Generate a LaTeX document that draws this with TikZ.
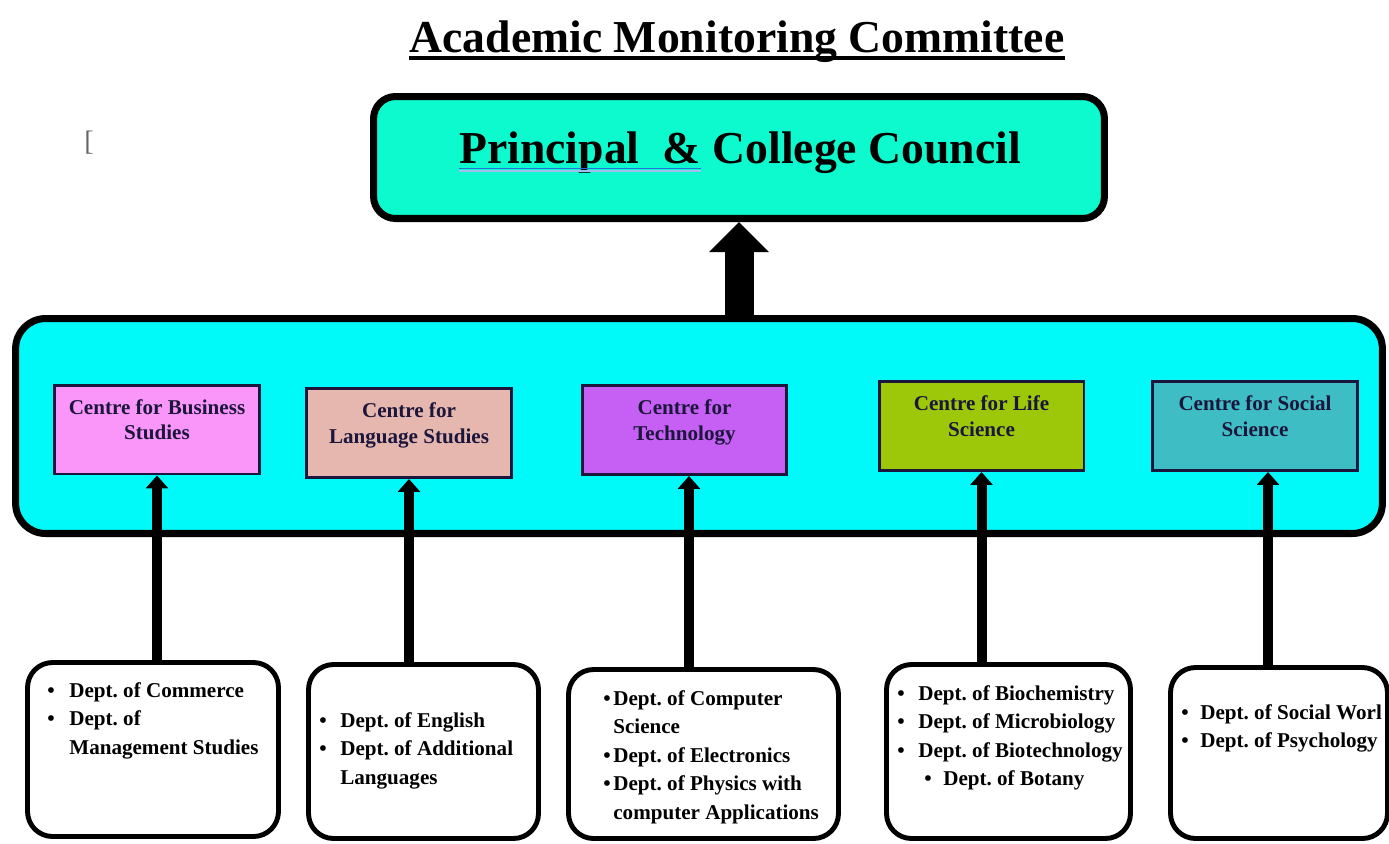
\documentclass[tikz,border=0pt]{standalone}
\usepackage{fontspec}
\setmainfont{Liberation Serif}
\usepackage{tikz}
\usetikzlibrary{positioning,arrows.meta}
\definecolor{councilgreen}{RGB}{12,250,205}
\definecolor{panelcyan}{RGB}{0,250,250}
\definecolor{busipink}{RGB}{250,150,250}
\definecolor{langrose}{RGB}{229,183,174}
\definecolor{techviolet}{RGB}{198,96,245}
\definecolor{lifegreen}{RGB}{157,200,10}
\definecolor{socteal}{RGB}{62,190,196}
\definecolor{centreink}{RGB}{28,22,60}
\definecolor{linkblue}{RGB}{40,110,220}
\newcommand{\centrelbl}[1]{\parbox[c][1.78cm][t]{4cm}{\centering\rule{0pt}{0.58cm}#1}}
\frenchspacing

\begin{document}
\begin{tikzpicture}[x=0.02cm, y=-0.02cm,
titletext/.style={inner sep=0pt, font=\fontsize{26}{30}\selectfont\bfseries},
councilnode/.style={draw, line width=4pt, rounded corners=0.44cm, fill=councilgreen, minimum width=14.62cm, minimum height=2.44cm},
panelnode/.style={draw, line width=4pt, rounded corners=0.6cm, fill=panelcyan, minimum width=27.34cm, minimum height=4.3cm},
centrenode/.style={draw=centreink, line width=1.7pt, inner sep=0pt, minimum width=4.1cm, minimum height=1.78cm, text=centreink, font=\fontsize{12}{14.7}\selectfont\bfseries},
deptnode/.style={draw, line width=2.8pt, rounded corners=0.5cm, fill=white, minimum height=3.48cm},
deptlist/.style={inner sep=0pt, anchor=north west, font=\fontsize{12}{16.2}\selectfont\bfseries},
bigarrow/.style={line width=0.58cm, -{Triangle[width=1.16cm, length=0.6cm]}},
deptarrow/.style={line width=0.2cm, -{Triangle[width=0.44cm, length=0.26cm]}}]
\useasboundingbox (0,0) rectangle (1389,843);

% heading
\node[titletext, anchor=base] (title) at (737,52) {Academic Monitoring Committee};
\draw[line width=0.08cm] ([yshift=-0.12cm]title.base west) -- ([yshift=-0.12cm]title.base east);
\node[text=gray!80!black, font=\fontsize{16}{16}\selectfont] (cursor) at (89,143) {[};

% council
\node[councilnode] (council) at (739,157.5) {};
\node[titletext, anchor=base west] (princ) at (459,163) {Principal\ \ \&};
\node[titletext, base right=6.5pt of princ] (college) {College Council};
\draw[linkblue, line width=0.8pt] ([yshift=-3pt]princ.base west) -- ([yshift=-3pt]princ.base east);
\draw[linkblue!45, line width=0.8pt] ([yshift=-4.6pt]princ.base west) -- ([yshift=-4.6pt]princ.base east);

% centres
\node[panelnode] (panel) at (699,426) {};
\node[centrenode, fill=busipink] (bus) at (157,429.5) {\centrelbl{Centre for Business\\Studies}};
\node[centrenode, fill=langrose] (lang) at (409,433) {\centrelbl{Centre for\\Language Studies}};
\node[centrenode, fill=techviolet] (tech) at (684.5,430) {\centrelbl{Centre for\\Technology}};
\node[centrenode, fill=lifegreen] (life) at (981.5,426) {\centrelbl{Centre for Life\\Science}};
\node[centrenode, fill=socteal] (soc) at (1255,426) {\centrelbl{Centre for Social\\Science}};

% departments
\node[deptnode, minimum width=5.02cm] (d1) at (153,749.5) {};
\node[deptnode, minimum width=4.6cm] (d2) at (423.5,751.5) {};
\node[deptnode, minimum width=5.4cm, minimum height=3.38cm] (d3) at (703.5,754) {};
\node[deptnode, minimum width=4.88cm] (d4) at (1008.5,751.5) {};
\node[deptnode, minimum width=4.34cm, minimum height=3.42cm] (d5) at (1279,753) {};

\node[deptlist] (l1) at (47,677) {\begin{tabular}{@{}p{0.44cm}@{}l@{}}
\textbullet & Dept. of Commerce\\
\textbullet & Dept. of\\
 & Management Studies
\end{tabular}};
\node[deptlist] (l2) at (319,707) {\begin{tabular}{@{}p{0.42cm}@{}l@{}}
\textbullet & Dept. of English\\
\textbullet & Dept. of Additional\\
 & Languages
\end{tabular}};
\node[deptlist] (l3) at (603,685) {\begin{tabular}{@{}p{0.2cm}@{}l@{}}
\textbullet & Dept. of Computer\\
 & Science\\
\textbullet & Dept. of Electronics\\
\textbullet & Dept. of Physics with\\
 & computer Applications
\end{tabular}};
\node[deptlist] (l4) at (897,680) {\begin{tabular}{@{}p{0.42cm}@{}l@{}}
\textbullet & Dept. of Biochemistry\\
\textbullet & Dept. of Microbiology\\
\textbullet & Dept. of Biotechnology\\
\multicolumn{2}{@{}l@{}}{\hspace{0.54cm}\makebox[0.38cm][l]{\textbullet}Dept. of Botany}
\end{tabular}};
\node[deptlist] (l5) at (1181,699) {\begin{tabular}{@{}p{0.38cm}@{}l@{}}
\textbullet & Dept. of Social Worl\\
\textbullet & Dept. of Psychology
\end{tabular}};

% arrows
\draw[bigarrow] (panel.north -| council.south) -- (council.south);
\draw[deptarrow] (bus.south |- d1.north) -- (bus.south);
\draw[deptarrow] (lang.south |- d2.north) -- (lang.south);
\draw[deptarrow] ([xshift=0.09cm]tech.south |- d3.north) -- ([xshift=0.09cm]tech.south);
\draw[deptarrow] (life.south |- d4.north) -- (life.south);
\draw[deptarrow] ([xshift=0.26cm]soc.south |- d5.north) -- ([xshift=0.26cm]soc.south);
\end{tikzpicture}
\end{document}
